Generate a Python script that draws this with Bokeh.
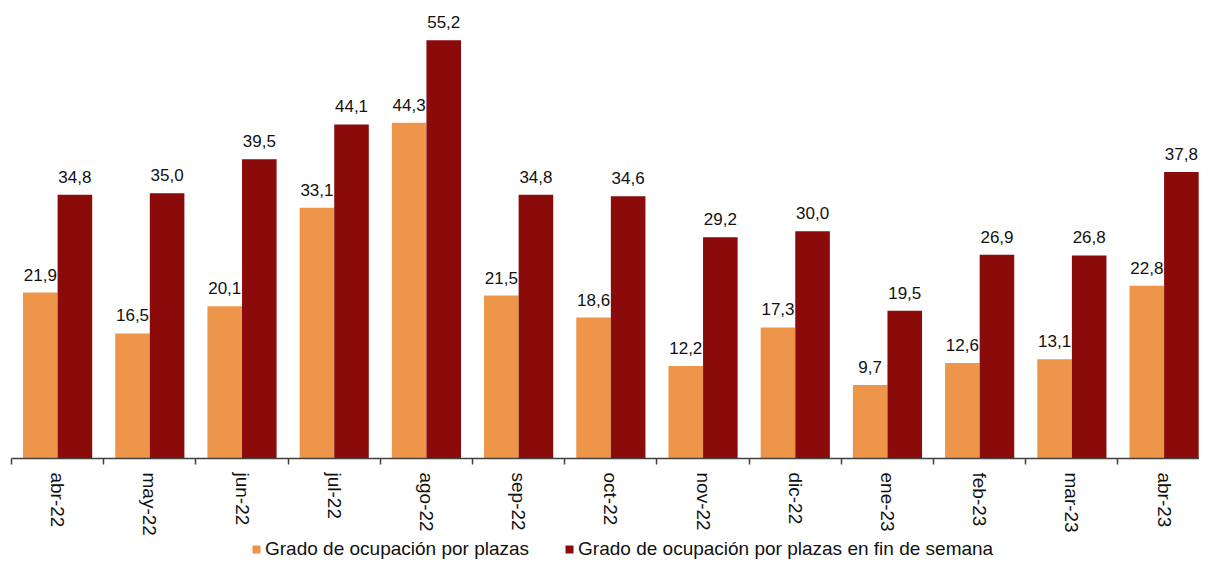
from bokeh.plotting import figure
from bokeh.models import (ColumnDataSource, Range1d, FixedTicker, LabelSet, Legend, LegendItem)
from bokeh.layouts import column
from bokeh.core.properties import value
from bokeh.embed import file_html
from bokeh.resources import INLINE

months = ["abr-22", "may-22", "jun-22", "jul-22", "ago-22", "sep-22", "oct-22",
          "nov-22", "dic-22", "ene-23", "feb-23", "mar-23", "abr-23"]
plazas = [21.9, 16.5, 20.1, 33.1, 44.3, 21.5, 18.6, 12.2, 17.3, 9.7, 12.6, 13.1, 22.8]
finde = [34.8, 35.0, 39.5, 44.1, 55.2, 34.8, 34.6, 29.2, 30.0, 19.5, 26.9, 26.8, 37.8]
series_names = ["Grado de ocupación por plazas",
                "Grado de ocupación por plazas en fin de semana"]
colors = ["#ED9549", "#8B0A0A"]

FONT = "Liberation Sans"
bar_w = 0.375
idx = list(range(len(months)))

src = ColumnDataSource(dict(
    x1=[i + 0.125 + bar_w / 2 for i in idx],
    x2=[i + 0.5 + bar_w / 2 for i in idx],
    plazas=plazas,
    finde=finde,
    lab1=[f"{v:.1f}".replace(".", ",") for v in plazas],
    lab2=[f"{v:.1f}".replace(".", ",") for v in finde],
))

p = figure(width=1199, height=538, output_backend="svg", toolbar_location=None,
           x_range=Range1d(0, 12.884), y_range=Range1d(0, 60.45),
           min_border_left=11, min_border_right=0, min_border_top=0, min_border_bottom=78)
p.outline_line_color = None
p.background_fill_color = "white"
p.border_fill_color = "white"
p.xgrid.visible = False
p.ygrid.visible = False
p.yaxis.visible = False

r1 = p.vbar(x="x1", top="plazas", width=bar_w, source=src, fill_color=colors[0], line_color=None)
r2 = p.vbar(x="x2", top="finde", width=bar_w, source=src, fill_color=colors[1], line_color=None)

for col, xcol, ycol in (("lab1", "x1", "plazas"), ("lab2", "x2", "finde")):
    ls = LabelSet(x=xcol, y=ycol, text=col, source=src, text_align="center",
                  text_baseline="alphabetic", y_offset=12, text_font=value(FONT),
                  text_font_size=value("17px"), text_color="#111111")
    p.add_layout(ls)

ax = p.xaxis[0]
ax.ticker = FixedTicker(ticks=[i + 0.5 for i in idx], minor_ticks=[float(i) for i in range(len(months) + 1)])
ax.major_label_overrides = {i + 0.5: m for i, m in zip(idx, months)}
ax.major_label_orientation = "vertical"
ax.major_tick_line_color = None
ax.major_tick_out = 6
ax.major_tick_in = 0
ax.minor_tick_out = 6
ax.minor_tick_in = 0
ax.minor_tick_line_color = "#404040"
ax.minor_tick_line_width = 1.5
ax.axis_line_color = "#404040"
ax.axis_line_width = 1.5
ax.major_label_standoff = 8
ax.major_label_text_font = FONT
ax.major_label_text_font_size = "19px"
ax.major_label_text_color = "#111111"

# legend strip below the chart (swatch renderers sit outside the visible range)
p2 = figure(width=1199, height=22, output_backend="svg", toolbar_location=None,
            x_range=Range1d(0, 1), y_range=Range1d(0, 1),
            min_border_left=0, min_border_right=0, min_border_top=0, min_border_bottom=0)
p2.axis.visible = False
p2.grid.visible = False
p2.outline_line_color = None
sw = ColumnDataSource(dict(x=[5], top=[1]))
d1 = p2.vbar(x="x", top="top", width=0.1, source=sw, fill_color=colors[0], line_color=None)
d2 = p2.vbar(x="x", top="top", width=0.1, source=sw, fill_color=colors[1], line_color=None)
legend = Legend(items=[LegendItem(label=series_names[0], renderers=[d1]),
                       LegendItem(label=series_names[1], renderers=[d2])],
                location=(240, 0), orientation="horizontal",
                glyph_width=10, glyph_height=10, label_standoff=4, spacing=35,
                padding=0, margin=0, border_line_color=None, background_fill_alpha=0,
                label_text_font=FONT, label_text_font_size="19px", label_text_color="#111111",
                label_height=18)
p2.add_layout(legend, "center")

layout = column(p, p2, spacing=0)
open("out.html", "w").write(file_html(layout, INLINE))
